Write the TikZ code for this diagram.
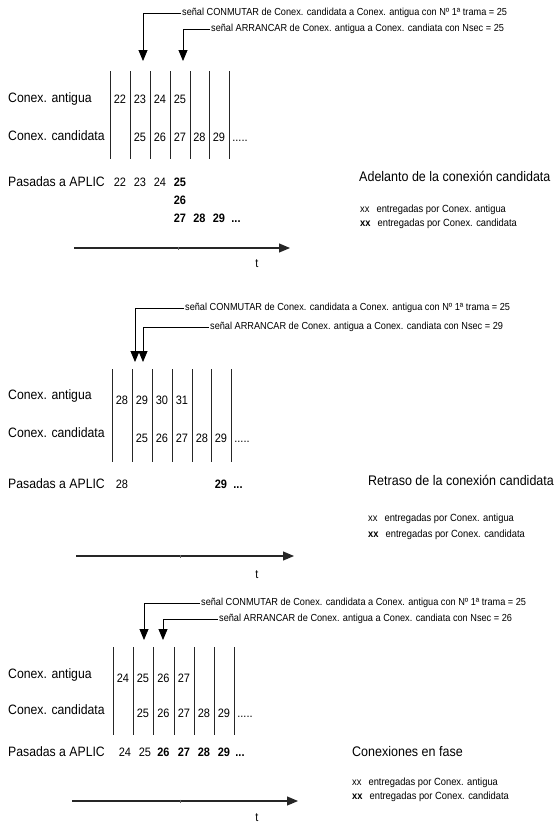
\documentclass[tikz,border=0pt]{standalone}
\usepackage{fontspec}
\setmainfont{Liberation Sans}[FakeStretch=0.9]
\usetikzlibrary{arrows.meta}

\begin{document}
\begin{tikzpicture}[x=1pt, y=-1pt, line join=round,
	lbl/.style={anchor=west, inner sep=0pt, font=\fontsize{13.6}{15}\selectfont},
	num/.style={inner sep=0pt, font=\fontsize{12.2}{14}\selectfont},
	bnum/.style={inner sep=0pt, font=\fontsize{12.2}{14}\selectfont\bfseries},
	sigtxt/.style={anchor=west, inner sep=1pt, font=\fontsize{10.2}{12}\selectfont},
	title/.style={anchor=west, inner sep=0pt, font=\fontsize{13.9}{16}\selectfont},
	legend/.style={anchor=west, inner sep=0pt, font=\fontsize{10.4}{12}\selectfont},
	cell/.style={line width=0.8pt, black!85},
	sig/.style={line width=0.8pt, -{Triangle[width=9pt,length=11pt]}},
	axis/.style={line width=1.1pt, black!85, -{Triangle[width=9pt,length=11pt]}}]
	\useasboundingbox (0,0) rectangle (556,823);

	%%%%%%%% Adelanto de la conexion candidata %%%%%%%%
	% 1. Signals
	\node[sigtxt] (p1s1) at (181,13) {señal CONMUTAR de Conex. candidata a Conex. antigua con Nº 1ª trama = 25};
	\node[sigtxt] (p1s2) at (210,29) {señal ARRANCAR de Conex. antigua a Conex. candiata con Nsec = 25};
	\coordinate (p1t1) at (143,61);
	\coordinate (p1t2) at (183,61);
	\draw[sig] (p1s1.west) -| (p1t1);
	\draw[sig] (p1s2.west) -| (p1t2);

	% 2. Frame boundaries
	\draw[cell] (110,71) -- (110,159) (130,71) -- (130,159) (150,71) -- (150,159)
	(170,71) -- (170,159) (190,71) -- (190,159) (209,71) -- (209,159) (229,71) -- (229,159);

	% 3. Rows
	\node[lbl] (p1ant) at (8,99) {Conex. antigua};
	\node[num] (p1a1) at (120,99) {22};
	\node[num] (p1a2) at (140,99) {23};
	\node[num] (p1a3) at (160,99) {24};
	\node[num] (p1a4) at (180,99) {25};
	\node[lbl] (p1can) at (8,136) {Conex. candidata};
	\node[num] (p1c2) at (140,137) {25};
	\node[num] (p1c3) at (160,137) {26};
	\node[num] (p1c4) at (180,137) {27};
	\node[num] (p1c5) at (199.5,137) {28};
	\node[num] (p1c6) at (219,137) {29};
	\node[num] (p1cd) at (240,137) {\vphantom{0}.....};

	% 4. Frames delivered
	\node[lbl] (p1pas) at (8,182) {Pasadas a APLIC};
	\node[num] (p1p1) at (120,182) {22};
	\node[num] (p1p2) at (140,182) {23};
	\node[num] (p1p3) at (160,182) {24};
	\node[bnum] (p1p4) at (180,182) {25};
	\node[bnum] (p1p5) at (180,200) {26};
	\node[bnum] (p1p6) at (180,218) {27};
	\node[bnum] (p1p7) at (199.5,218) {28};
	\node[bnum] (p1p8) at (219,218) {29};
	\node[bnum] (p1p9) at (236,218) {\vphantom{0}...};

	% 5. Time axis
	\coordinate (p1x0) at (74,248);
	\coordinate (p1x1) at (290,248);
	\draw[axis] (p1x0) -- (p1x1);
	\draw[black!60, line width=0.6pt] (178,246.5) -- (178,249.5);
	\node[num] (p1t) at (257,264) {t};

	% 6. Caption and key
	\node[title] (p1cap) at (359,176) {Adelanto de la conexión candidata};
	\node[legend] (p1k1) at (360,210) {xx\hspace{7pt}entregadas por Conex. antigua};
	\node[legend] (p1k2) at (360,224) {\textbf{xx}\hspace{7pt}entregadas por Conex. candidata};

	%%%%%%%% Retraso de la conexion candidata %%%%%%%%
	% 1. Signals
	\node[sigtxt] (p2s1) at (184,308) {señal CONMUTAR de Conex. candidata a Conex. antigua con Nº 1ª trama = 25};
	\node[sigtxt] (p2s2) at (209,327) {señal ARRANCAR de Conex. antigua a Conex. candiata con Nsec = 29};
	\coordinate (p2t1) at (135,362);
	\coordinate (p2t2) at (143,362);
	\draw[sig] (p2s1.west) -| (p2t1);
	\draw[sig] (p2s2.west) -| (p2t2);

	% 2. Frame boundaries
	\draw[cell] (112,369) -- (112,462) (132,369) -- (132,462) (152,369) -- (152,462)
	(172,369) -- (172,462) (192,369) -- (192,462) (211,369) -- (211,462) (231,369) -- (231,462);

	% 3. Rows
	\node[lbl] (p2ant) at (8,396) {Conex. antigua};
	\node[num] (p2a1) at (122,400) {28};
	\node[num] (p2a2) at (142,400) {29};
	\node[num] (p2a3) at (162,400) {30};
	\node[num] (p2a4) at (182,400) {31};
	\node[lbl] (p2can) at (8,433) {Conex. candidata};
	\node[num] (p2c2) at (142,438) {25};
	\node[num] (p2c3) at (162,438) {26};
	\node[num] (p2c4) at (182,438) {27};
	\node[num] (p2c5) at (202,438) {28};
	\node[num] (p2c6) at (221,438) {29};
	\node[num] (p2cd) at (242,438) {\vphantom{0}.....};

	% 4. Frames delivered
	\node[lbl] (p2pas) at (8,484) {Pasadas a APLIC};
	\node[num] (p2p1) at (122,484) {28};
	\node[bnum] (p2p8) at (221,484) {29};
	\node[bnum] (p2p9) at (238,484) {\vphantom{0}...};

	% 5. Time axis
	\coordinate (p2x0) at (76,556);
	\coordinate (p2x1) at (294,556);
	\draw[axis] (p2x0) -- (p2x1);
	\draw[black!60, line width=0.6pt] (180,554.5) -- (180,557.5);
	\node[num] (p2t) at (257,575) {t};

	% 6. Caption and key
	\node[title] (p2cap) at (368,480) {Retraso de la conexión candidata};
	\node[legend] (p2k1) at (368,519) {xx\hspace{7pt}entregadas por Conex. antigua};
	\node[legend] (p2k2) at (368,535) {\textbf{xx}\hspace{7pt}entregadas por Conex. candidata};

	%%%%%%%% Conexiones en fase %%%%%%%%
	% 1. Signals
	\node[sigtxt] (p3s1) at (200,603) {señal CONMUTAR de Conex. candidata a Conex. antigua con Nº 1ª trama = 25};
	\node[sigtxt] (p3s2) at (218,619) {señal ARRANCAR de Conex. antigua a Conex. candiata con Nsec = 26};
	\coordinate (p3t1) at (144,640);
	\coordinate (p3t2) at (163,640);
	\draw[sig] (p3s1.west) -| (p3t1);
	\draw[sig] (p3s2.west) -| (p3t2);

	% 2. Frame boundaries
	\draw[cell] (113,647) -- (113,735) (133,647) -- (133,735) (153,647) -- (153,735)
	(174,647) -- (174,735) (194,647) -- (194,735) (214,647) -- (214,735) (234,647) -- (234,735);

	% 3. Rows
	\node[lbl] (p3ant) at (8,675) {Conex. antigua};
	\node[num] (p3a1) at (123,678) {24};
	\node[num] (p3a2) at (143,678) {25};
	\node[num] (p3a3) at (163.5,678) {26};
	\node[num] (p3a4) at (184,678) {27};
	\node[lbl] (p3can) at (8,710) {Conex. candidata};
	\node[num] (p3c2) at (143,713) {25};
	\node[num] (p3c3) at (163.5,713) {26};
	\node[num] (p3c4) at (184,713) {27};
	\node[num] (p3c5) at (204,713) {28};
	\node[num] (p3c6) at (224,713) {29};
	\node[num] (p3cd) at (245,713) {\vphantom{0}.....};

	% 4. Frames delivered
	\node[lbl] (p3pas) at (8,752) {Pasadas a APLIC};
	\node[num] (p3p1) at (125,752) {24};
	\node[num] (p3p2) at (145,752) {25};
	\node[bnum] (p3p3) at (163.5,752) {26};
	\node[bnum] (p3p4) at (184,752) {27};
	\node[bnum] (p3p5) at (204,752) {28};
	\node[bnum] (p3p6) at (224,752) {29};
	\node[bnum] (p3p9) at (240,752) {\vphantom{0}...};

	% 5. Time axis
	\coordinate (p3x0) at (72,801);
	\coordinate (p3x1) at (298,801);
	\draw[axis] (p3x0) -- (p3x1);
	\draw[black!60, line width=0.6pt] (180,799.5) -- (180,802.5);
	\node[num] (p3t) at (257,818) {t};

	% 6. Caption and key
	\node[title] (p3cap) at (352,752) {Conexiones en fase};
	\node[legend] (p3k1) at (352,783) {xx\hspace{7pt}entregadas por Conex. antigua};
	\node[legend] (p3k2) at (352,797) {\textbf{xx}\hspace{7pt}entregadas por Conex. candidata};
\end{tikzpicture}
\end{document}
